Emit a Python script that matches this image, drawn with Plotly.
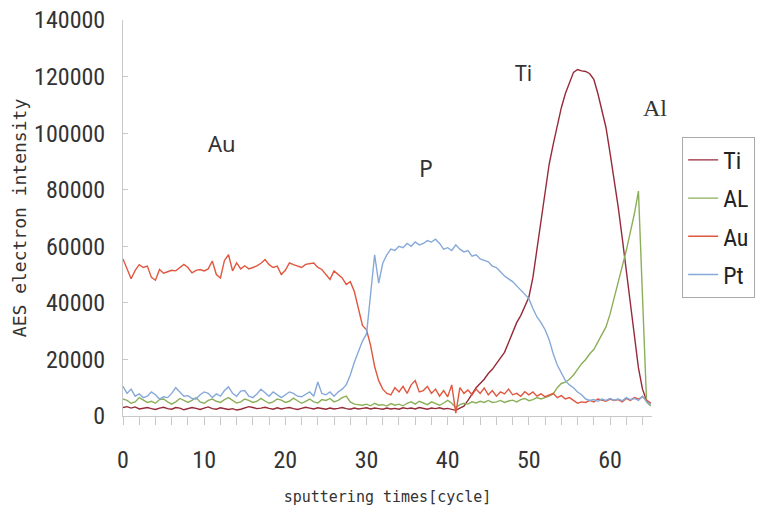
import plotly.graph_objects as go

# sampling grid: sputtering cycles 0..65, every half cycle
cycles = [i * 0.5 for i in range(131)]

ti = [3000, 3300, 2800, 3200, 2500, 2700, 3000, 2600, 2300, 2800,
      3100, 2600, 2400, 3000, 2800, 2200, 2500, 3000, 2700, 2300,
      2800, 3200, 2600, 2400, 2900, 2500, 2300, 2600, 2100, 2400,
      2800, 3300, 3000, 2600, 2800, 3100, 2700, 2400, 2900, 2500,
      2800, 3000, 2600, 2300, 2700, 3100, 2800, 2500, 2900, 2600,
      2400, 2800, 2500, 2700, 3000, 2600, 2400, 2800, 2500, 2700,
      2900, 2500, 2800, 2600, 2400, 2800, 2500, 2700, 2400, 2900,
      2600, 2800, 2500, 3000, 2600, 2400, 2800, 2600, 2900, 2500,
      2700, 2400, 2000, 2800, 3500, 5500, 8000, 10000, 11500, 13000,
      15000, 16500, 18500, 20500, 22500, 26000, 29500, 33000, 35500, 38500,
      42000, 49000, 59000, 70000, 80000, 89000, 96000, 103000, 109000, 114000,
      118000, 121500, 122500, 122000, 121800, 121000, 119000, 114000, 108000, 102000,
      93000, 84000, 74000, 63000, 52000, 41000, 29000, 17000, 9500, 5500,
      4500]

al = [6000, 5500, 4500, 5000, 6500, 5500, 4800, 5200, 4500, 5800,
      6000, 5000, 4200, 5000, 6200, 5500, 4800, 5500, 6500, 5000,
      4500, 5500, 6000, 5200, 4800, 5800, 6500, 5500, 4600, 5000,
      6000, 5500, 4800, 5200, 6200, 5300, 4500, 5000, 6000, 5600,
      4800, 5200, 6300, 5400, 4500, 5200, 6000, 5000, 4600, 5800,
      5500, 6200, 5000, 5500, 6500, 7000, 5000, 4200, 4000, 3800,
      4200, 3600, 4500, 3800, 4000, 3500, 4400, 3800, 4200, 3600,
      4500, 5000, 4200, 5200, 4600, 4000, 5000, 4400, 3800, 4600,
      5500, 4500, 3000, 4000, 4500, 4200, 5000, 4600, 5200, 4800,
      5500, 4800, 5000, 5500, 4800, 5300, 5600, 5000, 5800, 6200,
      5400, 5800, 6500, 6000, 6400, 7000, 7800, 10000, 11500, 12000,
      13000, 14500, 16500, 18500, 20000, 22000, 23500, 26000, 28500, 31500,
      36000, 41500, 47500, 52500, 58500, 65000, 71500, 79500, 42000, 5000,
      3500]

au = [55500, 52000, 48500, 51500, 53500, 52500, 53000, 49000, 48000, 51800,
      50500, 51000, 51500, 51300, 52500, 53600, 52500, 50600, 51500, 51800,
      51300, 52000, 54800, 50000, 48800, 55000, 57000, 51300, 54100, 52000,
      53100, 52000, 52500, 53100, 54000, 55300, 53500, 52500, 53000, 50000,
      51500, 54100, 53500, 53100, 52500, 53600, 53800, 54100, 52500, 51800,
      50000, 48300, 51300, 50000, 48800, 46500, 47500, 44000, 38000, 32000,
      30500, 25000, 17500, 12500, 9500, 8000, 7500, 10000, 8500, 10500,
      8000, 11000, 12500, 8500, 9000, 10500, 8000, 9500, 7000, 9000,
      6800, 11000, 1000, 10000, 8000, 9200, 7500, 9500, 8000, 9900,
      7500, 9000, 7000, 8500, 7800, 9500, 7500, 8000, 7000, 8600,
      7500, 8500, 7000, 7800, 6800, 7500, 8000, 6500, 7200, 6000,
      6500, 5500, 4500, 5000, 4800, 5500, 5000, 6000, 5700, 5200,
      6000, 5500, 5800, 5000, 6200, 5500, 6500, 6000, 6800, 5500,
      4500]

pt = [10500, 8000, 9500, 7000, 7800, 6500, 7000, 8500, 7500, 6000,
      6800, 6500, 8000, 10000, 8500, 7000, 7200, 6200, 6000, 7500,
      8500, 8000, 6500, 7800, 7000, 9000, 10300, 8000, 7000, 8800,
      9000, 7000, 6500, 7800, 9500, 8200, 7000, 8500, 7500, 6500,
      7500, 8500, 8000, 7000, 6800, 7800, 8500, 7000, 12000, 8000,
      7500, 8500, 7000, 8500, 9500, 11000, 14500, 19000, 23000, 26500,
      29000, 44000, 57000, 47000, 54000, 57000, 59000, 58500, 60000, 59500,
      61000, 60000, 61500, 60500, 61000, 62000, 61500, 62500, 61000, 59000,
      59500, 58500, 60500, 59000, 58000, 58500, 56500, 57000, 55500, 55000,
      54500, 53000, 52500, 51000, 49500, 48500, 47500, 46000, 44500, 43000,
      41500, 38000, 35000, 33000, 30500, 27000, 22000, 18000, 15000, 12500,
      11000, 10000, 8500, 7500, 6000, 5500, 5800, 5200, 6000, 5500,
      6200, 5600, 6000, 5400, 6500, 5800, 6200, 5500, 7000, 5000,
      4000]

series = [
    ("Ti", ti, "#962a38"),
    ("AL", al, "#8caf5a"),
    ("Au", au, "#e0573f"),
    ("Pt", pt, "#86a9d9"),
]

fig = go.Figure()
for name, vals, col in series:
    fig.add_trace(go.Scatter(
        x=cycles, y=vals, mode="lines", name=name, legendgroup=name,
        line=dict(color=col, width=1.4),
    ))

narrow = "Liberation Sans Narrow, Arial Narrow, Roboto Condensed, sans-serif"
mono = "DejaVu Sans Mono, monospace"

labels = [
    ("Au", "x", 12.2, 96500, "Noto Sans, sans-serif", 22),
    ("P", "x", 37.3, 87700, "Noto Sans, sans-serif", 23),
    ("Ti", "x", 49.3, 121300, "Noto Sans, sans-serif", 21),
    ("Al", "paper", 1.032, 108900, "Liberation Serif, serif", 24),
]
for txt, xr, lx, ly, fam, sz in labels:
    fig.add_annotation(x=lx, y=ly, xref=xr, yref="y", text=txt, showarrow=False,
                       font=dict(family=fam, size=sz, color="#333333"))

fig.update_layout(
    width=762, height=516,
    margin=dict(l=123, r=110, t=20, b=100, autoexpand=False),
    paper_bgcolor="white", plot_bgcolor="white",
    showlegend=True,
    legend=dict(
        x=1.057, xanchor="left", y=0.705, yanchor="top",
        bgcolor="white", bordercolor="#aaaaaa", borderwidth=1,
        font=dict(family=narrow, size=24, color="#222222"),
        tracegroupgap=4, itemwidth=30, entrywidth=90,
    ),
    xaxis=dict(
        range=[0, 65.17], showgrid=False, zeroline=False,
        showline=True, linecolor="#c8c8c8", linewidth=1,
        tickmode="linear", tick0=0, dtick=10,
        ticks="outside", ticklen=8, tickcolor="#c8c8c8",
        minor=dict(dtick=2, ticks="outside", ticklen=8, tickcolor="#c8c8c8"),
        ticklabelstandoff=14,
        tickfont=dict(family=narrow, size=24, color="#333333"),
        title=dict(text="sputtering times[cycle]", standoff=18,
                   font=dict(family=mono, size=15, color="#333333")),
    ),
    yaxis=dict(
        range=[0, 140000], showgrid=False, zeroline=False,
        showline=True, linecolor="#c8c8c8", linewidth=1,
        tickmode="linear", tick0=0, dtick=20000, tickformat="d",
        ticks="inside", ticklen=5, tickcolor="#c8c8c8",
        ticklabelstandoff=12,
        tickfont=dict(family=narrow, size=24, color="#333333"),
        title=dict(text="AES electron intensity", standoff=2,
                   font=dict(family=mono, size=18, color="#333333")),
    ),
)

fig.write_html("out.html")
